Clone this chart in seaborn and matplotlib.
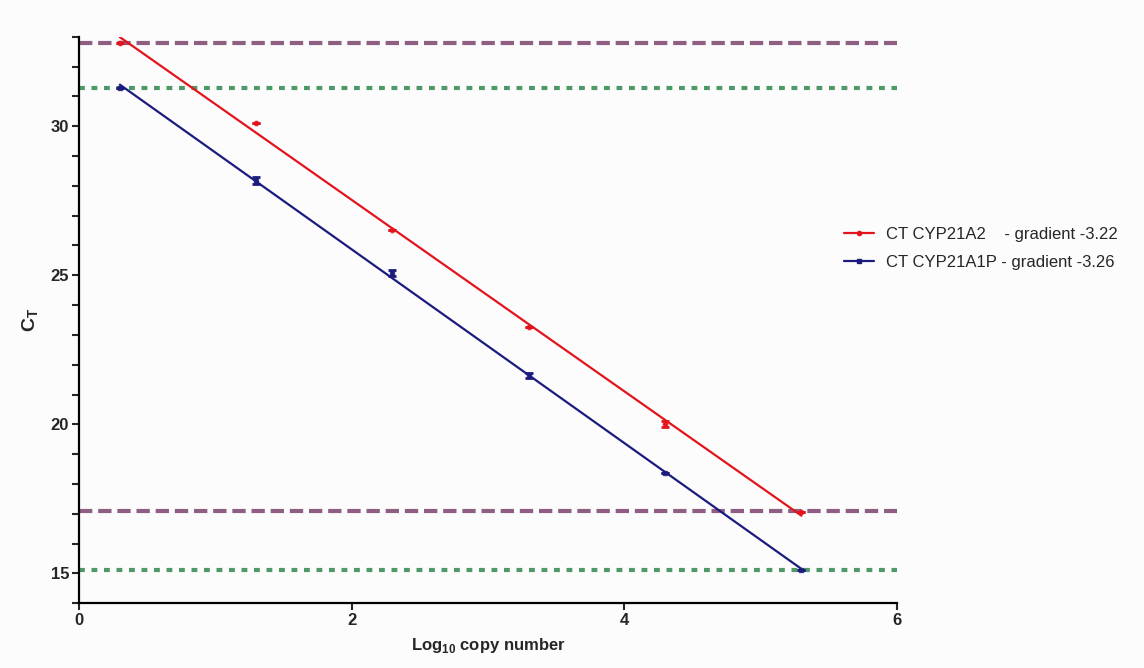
import numpy as np
import pandas as pd
import seaborn as sns
import matplotlib.pyplot as plt
from matplotlib.lines import Line2D
from matplotlib.ticker import MultipleLocator

# Seaborn Settings
sns.set_style("ticks")
plt.rcParams['font.family'] = ['Liberation Sans', 'DejaVu Sans']
plt.rcParams['mathtext.fontset'] = 'custom'
plt.rcParams['mathtext.rm'] = 'Liberation Sans'
plt.rcParams['mathtext.bf'] = 'Liberation Sans:bold'

# Data
log_copies = [0.3, 1.3, 2.3, 3.3, 4.3, 5.3]
ct_a2 = [32.80, 30.12, 26.53, 23.27, 20.00, 17.05]
ct_a2_sd = [0.0, 0.0, 0.0, 0.0, 0.10, 0.0]
ct_a1p = [31.27, 28.17, 25.08, 21.65, 18.36, 15.10]
ct_a1p_sd = [0.0, 0.12, 0.09, 0.08, 0.0, 0.0]

series_names = ['CT CYP21A2', 'CT CYP21A1P']
gradient_text = ['    - gradient -3.22', ' - gradient -3.26']

# threshold lines
purple_levels = [32.8, 17.1]
green_levels = [31.28, 15.1]

df = pd.DataFrame({'x': log_copies, 'a2': ct_a2, 'a1p': ct_a1p})

red = '#e3141c'
navy = '#1b1b7e'
purple = '#8e5f82'
green = '#4f9868'

fig = plt.figure(figsize=(11.44, 6.68), dpi=100, facecolor='#fcfcfc')
ax = fig.add_axes([0.069, 0.097, 0.715, 0.848])
ax.set_facecolor('#fcfcfc')

for lv in purple_levels:
    ax.axhline(lv, color=purple, lw=3, dashes=(3.2, 1.4), zorder=1)
for lv in green_levels:
    ax.axhline(lv, color=green, lw=3, dashes=(1.4, 1.6), zorder=1)

sns.regplot(data=df, x='x', y='a2', ax=ax, ci=None, color=red, marker='o',
            scatter_kws={'s': 10, 'zorder': 3}, line_kws={'lw': 1.6, 'zorder': 2})
sns.regplot(data=df, x='x', y='a1p', ax=ax, ci=None, color=navy, marker='s',
            scatter_kws={'s': 10, 'zorder': 3}, line_kws={'lw': 1.6, 'zorder': 2})

ax.errorbar(log_copies, ct_a2, yerr=ct_a2_sd, fmt='none', ecolor=red,
            elinewidth=2, capsize=3, capthick=2, zorder=3)
ax.errorbar(log_copies, ct_a1p, yerr=ct_a1p_sd, fmt='none', ecolor=navy,
            elinewidth=2, capsize=3, capthick=2, zorder=3)

ax.set_xlim(0, 6)
ax.set_ylim(14, 33)
ax.set_xticks([0, 2, 4, 6])
ax.set_yticks([15, 20, 25, 30])
ax.yaxis.set_minor_locator(MultipleLocator(1))
ax.tick_params(axis='both', which='major', length=5, width=1.5, labelsize=12, pad=2)
ax.tick_params(axis='y', which='minor', length=5, width=1.5)
for lab in ax.get_xticklabels() + ax.get_yticklabels():
    lab.set_fontweight('bold')

sns.despine(ax=ax)
for s in ['left', 'bottom']:
    ax.spines[s].set_linewidth(1.6)
    ax.spines[s].set_color('black')

ax.set_xlabel(r'Log$_{\mathbf{10}}$ copy number', fontsize=12, fontweight='bold', labelpad=6)
ax.set_ylabel(r'$\mathbf{C_T}$', fontsize=14, labelpad=8)

handles = [Line2D([0], [0], color=red, lw=1.6, marker='o', ms=3),
           Line2D([0], [0], color=navy, lw=1.6, marker='s', ms=3)]
labels = [n + g for n, g in zip(series_names, gradient_text)]
fig.legend(handles, labels, loc='center left', bbox_to_anchor=(0.725, 0.628),
           frameon=False, fontsize=12, handlelength=1.8, handletextpad=0.7,
           labelspacing=0.75)

plt.savefig('out.png', dpi=100, facecolor=fig.get_facecolor())
